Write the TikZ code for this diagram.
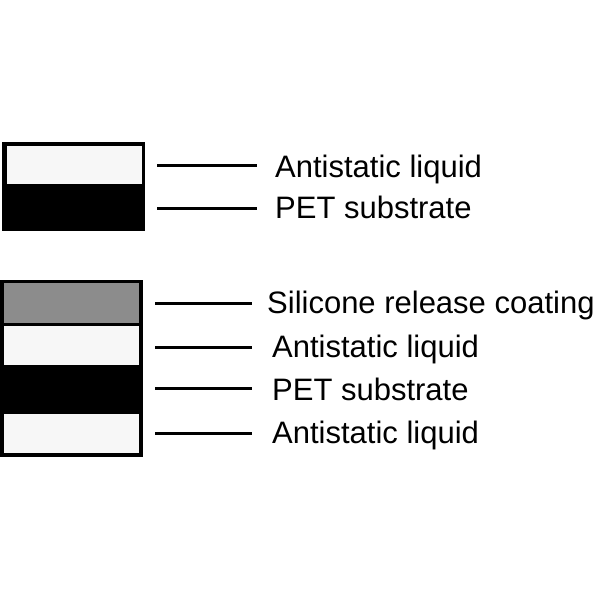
\documentclass[tikz,border=0pt]{standalone}
\usepackage{fontspec}
\setmainfont{Liberation Sans}
\begin{document}
\begin{tikzpicture}[x=1pt,y=-1pt,
  layer/.style={draw=none,inner sep=0pt,outer sep=0pt},
  lbl/.style={anchor=base west,inner sep=0pt,font=\fontsize{31}{36}\selectfont},
  leader/.style={line width=3pt}]
\useasboundingbox (0,0) rectangle (600,600);
% top stack
\fill[black] (2,142) rectangle (145,231);
\node[layer,fill=black!3,minimum width=135pt,minimum height=38pt] (ta) at (74.5,165) {};
\node[layer,fill=black,minimum width=135pt,minimum height=43pt] (tp) at (74.5,207) {};
% bottom stack
\fill[black] (0,280) rectangle (143,457);
\node[layer,fill=black!45,minimum width=135pt,minimum height=40pt] (bs) at (71.5,303) {};
\node[layer,fill=black!3,minimum width=135pt,minimum height=39pt] (ba) at (71.5,345.5) {};
\node[layer,fill=black,minimum width=135pt,minimum height=45pt] (bp) at (71.5,389.5) {};
\node[layer,fill=black!3,minimum width=135pt,minimum height=39pt] (bb) at (71.5,433.5) {};
% leader line coordinates
\coordinate (t1s) at (157,165); \coordinate (t1e) at (257,165);
\coordinate (t2s) at (157,208); \coordinate (t2e) at (257,208);
\coordinate (b1s) at (155,303); \coordinate (b1e) at (252,303);
\coordinate (b2s) at (155,347); \coordinate (b2e) at (252,347);
\coordinate (b3s) at (155,388); \coordinate (b3e) at (252,388);
\coordinate (b4s) at (155,433); \coordinate (b4e) at (252,433);
\draw[leader] (t1s) -- (t1e);
\draw[leader] (t2s) -- (t2e);
\draw[leader] (b1s) -- (b1e);
\draw[leader] (b2s) -- (b2e);
\draw[leader] (b3s) -- (b3e);
\draw[leader] (b4s) -- (b4e);
% labels
\node[lbl] (l1) at (275,177) {Antistatic liquid};
\node[lbl] (l2) at (275,218) {PET substrate};
\node[lbl] (l3) at (267,313) {Silicone release coating};
\node[lbl] (l4) at (272,357) {Antistatic liquid};
\node[lbl] (l5) at (272,400) {PET substrate};
\node[lbl] (l6) at (272,443) {Antistatic liquid};
\end{tikzpicture}
\end{document}
